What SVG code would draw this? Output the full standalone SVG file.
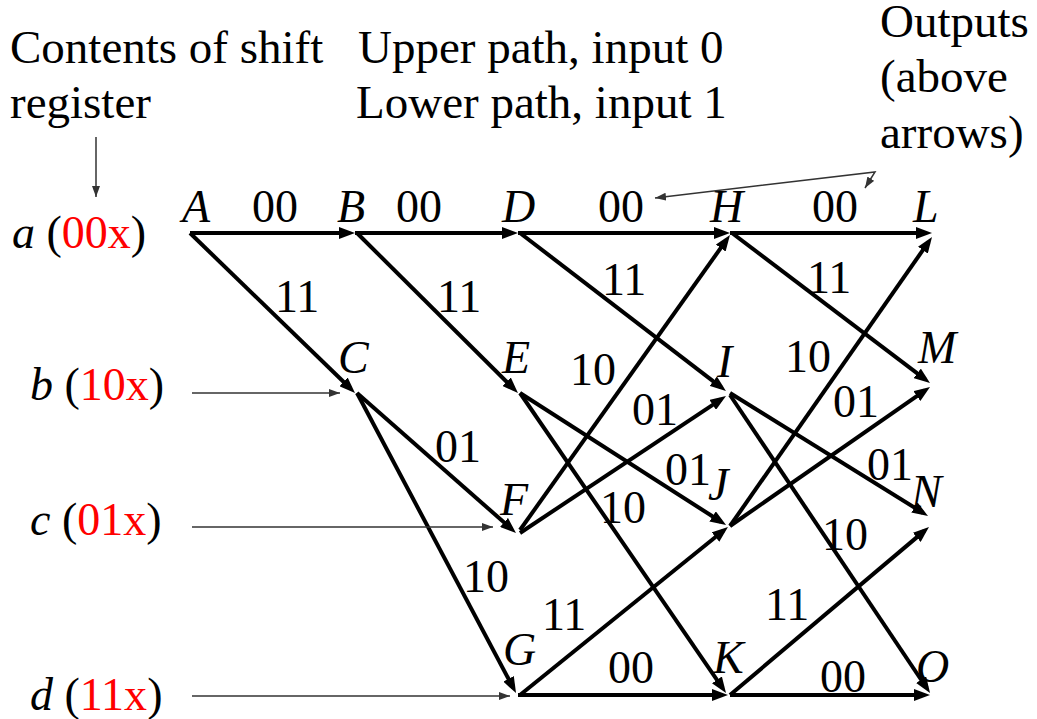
<svg xmlns="http://www.w3.org/2000/svg" width="1037" height="719" viewBox="0 0 1037 719" font-family="'Liberation Serif', 'Times New Roman', 'DejaVu Serif', serif">
<defs>
<marker id="ah" markerUnits="userSpaceOnUse" markerWidth="16" markerHeight="12" refX="10" refY="6" orient="auto"><path d="M0,0 L16,6 L0,12 z" fill="#000"/></marker>
<marker id="th" markerUnits="userSpaceOnUse" markerWidth="11" markerHeight="8" refX="11" refY="4" orient="auto"><path d="M0,0 L11,4 L0,8 z" fill="#333"/></marker>
<marker id="thb" markerUnits="userSpaceOnUse" markerWidth="11" markerHeight="8" refX="0" refY="4" orient="auto"><path d="M11,0 L0,4 L11,8 z" fill="#333"/></marker>
</defs>
<style>
text{font-family:'Liberation Serif','Times New Roman','DejaVu Serif',serif;font-size:46px;fill:#000}
.hd{font-size:47px}
.it{font-style:italic}
.red{fill:#ff0000}
.e{stroke:#000;stroke-width:4;fill:none;marker-end:url(#ah)}
.t{stroke:#333;stroke-width:1.5;fill:none;marker-end:url(#th)}
</style>
<rect width="1037" height="719" fill="#fff"/>
<g id="header">
<text class="hd" x="10" y="63">Contents of shift</text>
<text class="hd" x="10" y="118">register</text>
<text class="hd" x="358" y="63">Upper path, input 0</text>
<text class="hd" x="356" y="118">Lower path, input 1</text>
<text class="hd" x="880" y="37">Outputs</text>
<text class="hd" x="880" y="92">(above</text>
<text class="hd" x="880" y="148">arrows)</text>
</g>
<g id="states">
<text x="12" y="248"><tspan class="it">a</tspan> (<tspan class="red">00x</tspan>)</text>
<text x="30" y="400"><tspan class="it">b</tspan> (<tspan class="red">10x</tspan>)</text>
<text x="30" y="535"><tspan class="it">c</tspan> (<tspan class="red">01x</tspan>)</text>
<text x="30" y="710"><tspan class="it">d</tspan> (<tspan class="red">11x</tspan>)</text>
</g>
<g id="node-A"><text class="it" x="182" y="222">A</text></g>
<g id="node-B"><text class="it" x="337" y="222">B</text></g>
<g id="node-D"><text class="it" x="502" y="222">D</text></g>
<g id="node-H"><text class="it" x="710" y="222">H</text></g>
<g id="node-L"><text class="it" x="913" y="222">L</text></g>
<g id="node-C"><text class="it" x="338" y="373">C</text></g>
<g id="node-E"><text class="it" x="502" y="373">E</text></g>
<g id="node-I"><text class="it" x="717" y="377">I</text></g>
<g id="node-M"><text class="it" x="918" y="363">M</text></g>
<g id="node-F"><text class="it" x="500" y="515">F</text></g>
<g id="node-J"><text class="it" x="708" y="500">J</text></g>
<g id="node-N"><text class="it" x="911" y="507">N</text></g>
<g id="node-G"><text class="it" x="503" y="665">G</text></g>
<g id="node-K"><text class="it" x="713" y="673">K</text></g>
<g id="node-O"><text class="it" x="916" y="682">O</text></g>
<g id="connectors">
<line class="e" x1="190" y1="233" x2="349" y2="233"/>
<line class="e" x1="190" y1="233" x2="350.7" y2="388.8"/>
<line class="e" x1="355" y1="233" x2="512" y2="233"/>
<line class="e" x1="357" y1="233" x2="513.7" y2="388.8"/>
<line class="e" x1="357" y1="393" x2="511.5" y2="529"/>
<line class="e" x1="357" y1="393" x2="513.2" y2="687.7"/>
<line class="e" x1="518" y1="233" x2="724" y2="233"/>
<line class="e" x1="520" y1="233" x2="721.2" y2="387.3"/>
<line class="e" x1="520" y1="393" x2="721" y2="521.8"/>
<line class="e" x1="520" y1="393" x2="722.6" y2="688.1"/>
<line class="e" x1="520" y1="530" x2="726.5" y2="239.9"/>
<line class="e" x1="520" y1="533" x2="721" y2="399.3"/>
<line class="e" x1="520" y1="695" x2="723.3" y2="530.8"/>
<line class="e" x1="518" y1="695" x2="722" y2="695"/>
<line class="e" x1="730" y1="233" x2="926" y2="233"/>
<line class="e" x1="732" y1="233" x2="925.2" y2="379.4"/>
<line class="e" x1="730" y1="393" x2="922.9" y2="512.8"/>
<line class="e" x1="730" y1="395" x2="926.7" y2="688"/>
<line class="e" x1="730" y1="526" x2="928.6" y2="241.9"/>
<line class="e" x1="730" y1="526" x2="925.1" y2="390.4"/>
<line class="e" x1="730" y1="695" x2="924.4" y2="530.9"/>
<line class="e" x1="730" y1="695" x2="924" y2="695"/>
<line class="t" x1="96" y1="137" x2="96" y2="197"/>
<line class="t" x1="192" y1="393" x2="340" y2="393"/>
<line class="t" x1="192" y1="527" x2="493" y2="527"/>
<line class="t" x1="192" y1="696" x2="510" y2="696"/>
<path d="M655,198 L875,172 L865,188" stroke="#333" stroke-width="1.5" fill="none" marker-start="url(#thb)" marker-end="url(#th)"/>
<text x="252" y="222">00</text>
<text x="396" y="222">00</text>
<text x="598" y="222">00</text>
<text x="812" y="222">00</text>
<text x="275" y="312">11</text>
<text x="437" y="312">11</text>
<text x="602" y="295">11</text>
<text x="807" y="293">11</text>
<text x="435" y="462">01</text>
<text x="570" y="385">10</text>
<text x="785" y="372">10</text>
<text x="632" y="425">01</text>
<text x="833" y="417">01</text>
<text x="665" y="485">01</text>
<text x="867" y="480">01</text>
<text x="600" y="523">10</text>
<text x="822" y="550">10</text>
<text x="463" y="592">10</text>
<text x="542" y="630">11</text>
<text x="765" y="620">11</text>
<text x="608" y="683">00</text>
<text x="820" y="692">00</text>
</g>
</svg>
